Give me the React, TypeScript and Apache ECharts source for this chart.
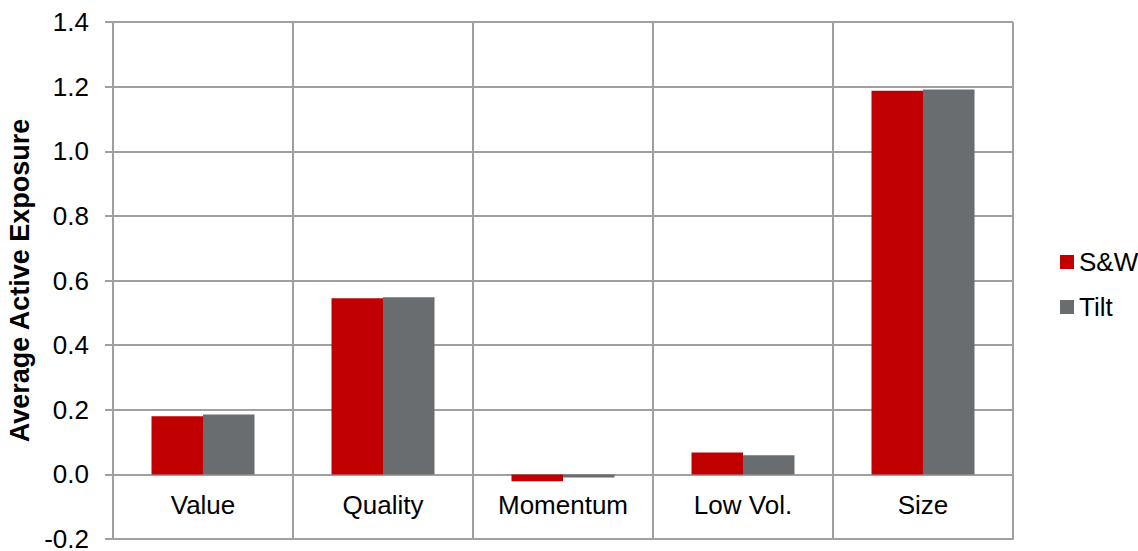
import React, { useEffect, useRef } from "react";
import * as echarts from "echarts";

const categories = ["Value", "Quality", "Momentum", "Low Vol.", "Size"];
const swValues = [0.18, 0.545, -0.021, 0.068, 1.187];
const tiltValues = [0.185, 0.548, -0.01, 0.059, 1.191];
const seriesNames = ["S&W", "Tilt"];
const colors = ["#C00000", "#696D70"];
const yTicks = { min: -0.2, max: 1.4, interval: 0.2 };

export default function App() {
  const ref = useRef<HTMLDivElement>(null);
  useEffect(() => {
    if (!ref.current) return;
    const chart = echarts.init(ref.current, undefined, { renderer: "svg" });
    const font = "Liberation Sans, Arial, sans-serif";
    const gridColor = "#A0A0A0";
    chart.setOption({
      animation: false,
      textStyle: { fontFamily: font },
      grid: {
        left: 113,
        right: 125,
        top: 22,
        bottom: 12,
        containLabel: false,
        outerBoundsMode: "none",
      },
      legend: {
        orient: "vertical",
        left: 1055,
        top: 244,
        itemWidth: 14,
        itemHeight: 14,
        itemGap: 19,
        icon: "rect",
        textStyle: { fontSize: 26, color: "#000", fontFamily: font },
        data: seriesNames,
      },
      xAxis: {
        type: "category",
        data: categories,
        position: "bottom",
        axisLine: { show: true, onZero: false, lineStyle: { color: gridColor, width: 2 } },
        axisTick: { show: false },
        // labels sit just under the zero line, inside the plot
        axisLabel: { fontSize: 26, color: "#000", margin: -47, fontFamily: font },
        splitLine: { show: true, lineStyle: { color: gridColor, width: 2 } },
      },
      yAxis: {
        type: "value",
        min: yTicks.min,
        max: yTicks.max,
        interval: yTicks.interval,
        name: "Average Active Exposure",
        nameLocation: "middle",
        nameGap: 77,
        nameTextStyle: { fontSize: 27, fontWeight: "bold", color: "#000", fontFamily: font },
        axisLine: { show: true, lineStyle: { color: gridColor, width: 2 } },
        axisTick: { show: true, length: 8, lineStyle: { color: gridColor, width: 2 } },
        axisLabel: {
          fontSize: 26,
          color: "#000",
          margin: 24,
          fontFamily: font,
          formatter: (v: number) => v.toFixed(1),
        },
        splitLine: { show: true, lineStyle: { color: gridColor, width: 2 } },
      },
      series: [
        {
          name: seriesNames[0],
          type: "bar",
          data: swValues,
          itemStyle: { color: colors[0] },
          barWidth: 51.5,
          barGap: "0%",
        },
        {
          name: seriesNames[1],
          type: "bar",
          data: tiltValues,
          itemStyle: { color: colors[1] },
          barWidth: 51.5,
          barGap: "0%",
        },
      ],
    });
    return () => chart.dispose();
  }, []);
  return (
    <div
      ref={ref}
      style={{ position: "fixed", left: 0, top: 0, width: 1138, height: 551, background: "#fff" }}
    />
  );
}
